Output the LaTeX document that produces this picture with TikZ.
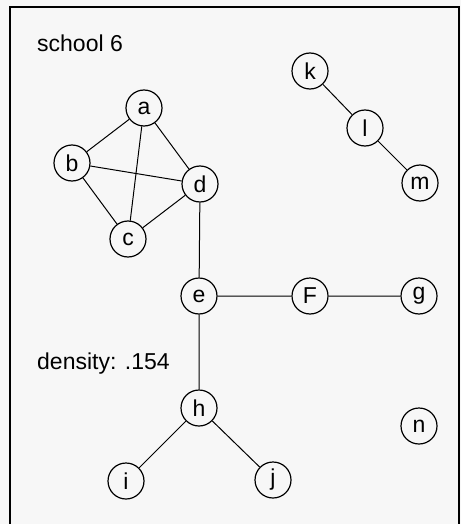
\documentclass[tikz,border=0pt]{standalone}
\usepackage{fontspec}
\setmainfont{Liberation Sans}
\begin{document}
\begin{tikzpicture}[x=1pt,y=-1pt,
  vtx/.style={circle,draw,line width=1.2pt,minimum size=36pt,inner sep=0pt,font=\fontsize{23}{25}\selectfont},
  edge/.style={line width=1pt},
  lbl/.style={anchor=base west,inner sep=0pt,font=\fontsize{23}{26}\selectfont}]
\useasboundingbox (0,0) rectangle (461,524);
\fill[white!97!black] (0,0) rectangle (461,524);
\draw[line width=1.5pt] (10,524) -- (10,7) -- (459,7) -- (459,524);
\node[lbl] (t1) at (37,52) {school 6};
\node[lbl] (t2) at (37,369) {density: .154};
\node[vtx] (a) at (144,108) {a};
\node[vtx] (b) at (72,163) {b};
\node[vtx] (c) at (128,239) {c};
\node[vtx] (d) at (200,184) {d};
\node[vtx] (k) at (310,71) {k};
\node[vtx] (l) at (365,128) {l};
\node[vtx] (m) at (420,183) {m};
\node[vtx] (e) at (199,296) {e};
\node[vtx] (F) at (310,296) {F};
\node[vtx] (g) at (419,296) {g};
\node[vtx] (h) at (199,408) {h};
\node[vtx] (i) at (126,481) {i};
\node[vtx] (j) at (273,480) {j};
\node[vtx] (n) at (419,426) {n};
\draw[edge] (a)--(b) (a)--(c) (a)--(d) (b)--(c) (b)--(d) (c)--(d)
  (k)--(l) (l)--(m) (d)--(e) (e)--(F) (F)--(g) (e)--(h) (h)--(i) (h)--(j);
\end{tikzpicture}
\end{document}
